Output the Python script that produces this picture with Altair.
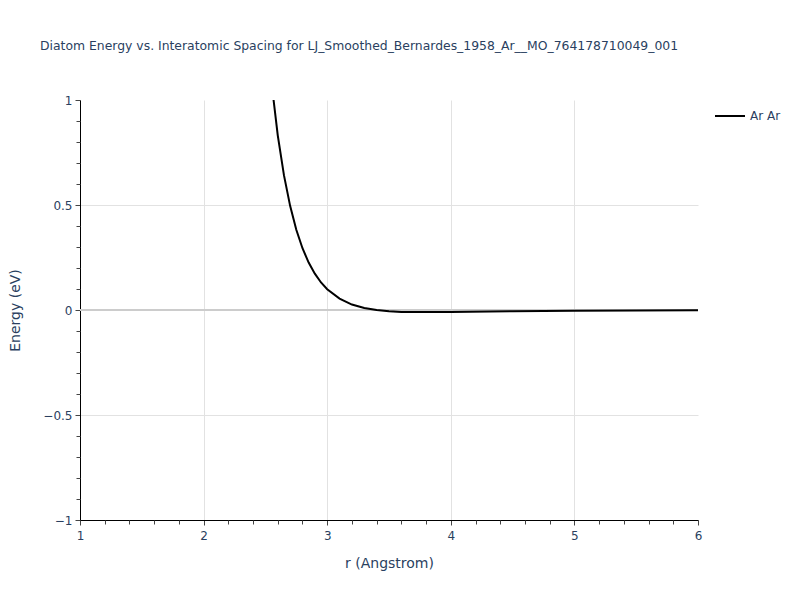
import altair as alt
import pandas as pd

# ---- data ----
r_values = [2.5, 2.55, 2.6, 2.65, 2.7, 2.75, 2.8, 2.85, 2.9, 2.95, 3.0, 3.1, 3.2, 3.3,
            3.4, 3.5, 3.6, 3.8, 4.0, 4.5, 5.0, 5.5, 6.0]
energy_values = [1.40, 1.08, 0.832, 0.642, 0.496, 0.382, 0.294, 0.226, 0.173, 0.131,
                 0.099, 0.054, 0.026, 0.010, 0.0, -0.006, -0.009, -0.010, -0.010,
                 -0.006, -0.004, -0.002, -0.001]
pair_name = "Ar Ar"
title_text = "Diatom Energy vs. Interatomic Spacing for LJ_Smoothed_Bernardes_1958_Ar__MO_764178710049_001"

x_major = [1, 2, 3, 4, 5, 6]
x_grid = [2, 3, 4, 5]
x_minor = [1.2, 1.4, 1.6, 1.8, 2.2, 2.4, 2.6, 2.8, 3.2, 3.4, 3.6, 3.8,
           4.2, 4.4, 4.6, 4.8, 5.2, 5.4, 5.6, 5.8]
y_major = [-1, -0.5, 0, 0.5, 1]
y_grid = [-0.5, 0.5]
y_minor = [-0.9, -0.8, -0.7, -0.6, -0.4, -0.3, -0.2, -0.1,
           0.1, 0.2, 0.3, 0.4, 0.6, 0.7, 0.8, 0.9]
zero_line = [0]

df = pd.DataFrame({"r": r_values, "E": energy_values, "pair": [pair_name] * len(r_values)})
zdf = pd.DataFrame({"z": zero_line})

FONT = "DejaVu Sans"
TEXT = "#2a3f5f"
xs = alt.Scale(domain=[1, 6], nice=False, zero=False)
ys = alt.Scale(domain=[-1, 1], nice=False, zero=False)

grid_layer = alt.Chart(df).mark_point(opacity=0, clip=True).encode(
    x=alt.X("r:Q", scale=xs, axis=alt.Axis(values=x_grid, grid=True, gridColor="#e2e2e2",
                                           ticks=False, labels=False, domain=False,
                                           title=None, orient="bottom")),
    y=alt.Y("E:Q", scale=ys, axis=alt.Axis(values=y_grid, grid=True, gridColor="#e2e2e2",
                                           ticks=False, labels=False, domain=False,
                                           title=None, orient="left")),
)

zero_layer = alt.Chart(zdf).mark_rule(color="#cccccc", strokeWidth=2).encode(
    y=alt.Y("z:Q", scale=ys, axis=None)
)

line_layer = alt.Chart(df).mark_line(strokeWidth=2, clip=True).encode(
    x=alt.X("r:Q", scale=xs, axis=alt.Axis(
        values=x_major, grid=False, tickSize=5, tickColor="#444444", domainColor="#000000",
        labelColor=TEXT, labelFont=FONT, labelFontSize=12, labelPadding=5, format="~g",
        labelFlush=False, labelOverlap=False,
        title="r (Angstrom)", titleFont=FONT, titleFontSize=14, titleColor=TEXT,
        titleFontWeight="normal", titleX=309, titleY=43, titleBaseline="middle",
        titleAlign="center", orient="bottom")),
    y=alt.Y("E:Q", scale=ys, axis=alt.Axis(
        values=y_major, grid=False, tickSize=5, tickColor="#444444", domainColor="#000000",
        labelColor=TEXT, labelFont=FONT, labelFontSize=12, labelPadding=3, format="~g",
        labelFlush=False, labelOverlap=False,
        title="Energy (eV)", titleFont=FONT, titleFontSize=14, titleColor=TEXT,
        titleFontWeight="normal", titleX=-65, titleY=210, titleBaseline="middle",
        titleAlign="center", titleAngle=270, orient="left")),
    color=alt.Color("pair:N", scale=alt.Scale(range=["#000000"]), legend=alt.Legend(
        title=None, orient="none", legendX=634, legendY=0, symbolType="stroke",
        symbolSize=900, symbolStrokeWidth=2, labelFont=FONT, labelFontSize=12,
        labelColor=TEXT, labelOffset=4, padding=0)),
)

minor_layer = alt.Chart(df).mark_point(opacity=0, clip=True).encode(
    x=alt.X("r:Q", scale=xs, axis=alt.Axis(values=x_minor, grid=False, tickSize=4,
                                           tickColor="#444444", labels=False, domain=False,
                                           title=None, orient="bottom")),
    y=alt.Y("E:Q", scale=ys, axis=alt.Axis(values=y_minor, grid=False, tickSize=4,
                                           tickColor="#444444", labels=False, domain=False,
                                           title=None, orient="left")),
)

chart = alt.layer(grid_layer, zero_layer, line_layer, minor_layer).resolve_axis(
    x="independent", y="independent"
).properties(
    width=618, height=420,
    title=alt.TitleParams(title_text, anchor="start", frame="group", font=FONT, fontSize=12.4,
                          fontWeight="normal", color=TEXT, dx=-40, offset=29,
                          baseline="bottom"),
    autosize=alt.AutoSizeParams(type="none"),
    padding={"left": 72, "top": 92, "right": 94, "bottom": 72},
).configure_view(stroke=None)

chart.save("out.html", embed_options={"renderer": "svg", "actions": False})
